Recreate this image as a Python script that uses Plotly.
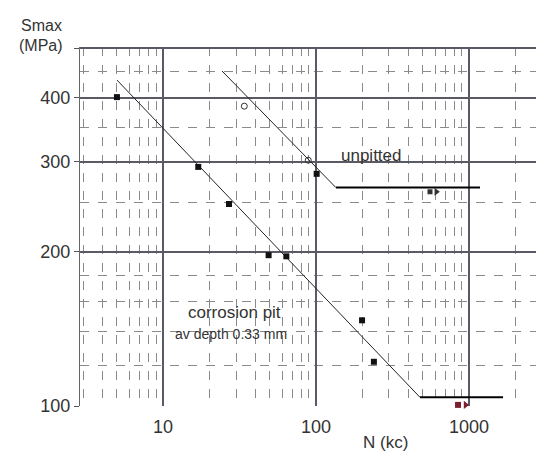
import plotly.graph_objects as go

# ---- data ----
pit_N = [5, 17, 27, 49, 64, 200, 239]
pit_S = [401, 293, 248, 197, 196, 147, 122]
pit_runout_N = [848]
pit_runout_S = [100.5]
pit_line_N = [5.0, 478]
pit_line_S = [433, 104]
pit_limit_N = [478, 1670]
pit_limit_S = [104, 104]

unp_open_N = [34, 89]
unp_open_S = [385, 302]
unp_fill_N = [101]
unp_fill_S = [284]
unp_runout_N = [556]
unp_runout_S = [262]
unp_line_N = [24.3, 135]
unp_line_S = [451, 267]
unp_limit_N = [135, 1180]
unp_limit_S = [267, 267]

x_ticks = [10, 100, 1000]
x_ticktext = ["10", "100", "1000"]
x_minor = [3, 4, 5, 6, 7, 8, 9, 20, 30, 40, 50, 60, 70, 80, 90,
           200, 300, 400, 500, 600, 700, 800, 900, 2000]
y_ticks = [100, 200, 300, 400, 500]
y_ticktext = ["100", "200", "300", "400", ""]
y_minor = [120, 140, 160, 180, 250, 350, 450]

FONT = "Liberation Sans, Arial, sans-serif"

fig = go.Figure()

fig.add_trace(go.Scatter(x=pit_line_N, y=pit_line_S, mode="lines",
                         line=dict(color="#222", width=1), showlegend=False))
fig.add_trace(go.Scatter(x=pit_limit_N, y=pit_limit_S, mode="lines",
                         line=dict(color="#000", width=2), showlegend=False))
fig.add_trace(go.Scatter(x=unp_line_N, y=unp_line_S, mode="lines",
                         line=dict(color="#222", width=1), showlegend=False))
fig.add_trace(go.Scatter(x=unp_limit_N, y=unp_limit_S, mode="lines",
                         line=dict(color="#000", width=2), showlegend=False))

fig.add_trace(go.Scatter(x=pit_N, y=pit_S, mode="markers",
                         marker=dict(symbol="square", size=6, color="#111"),
                         showlegend=False))
fig.add_trace(go.Scatter(x=pit_runout_N, y=pit_runout_S, mode="markers",
                         marker=dict(symbol="square", size=6, color="#7a2030"),
                         cliponaxis=False, showlegend=False))
fig.add_trace(go.Scatter(x=[n * 1.12 for n in pit_runout_N], y=pit_runout_S,
                         mode="markers",
                         marker=dict(symbol="triangle-right", size=7, color="#7a2030"),
                         cliponaxis=False, showlegend=False))
fig.add_trace(go.Scatter(x=unp_open_N, y=unp_open_S, mode="markers",
                         marker=dict(symbol="circle-open", size=6, color="#333",
                                     line=dict(width=1)),
                         showlegend=False))
fig.add_trace(go.Scatter(x=unp_fill_N, y=unp_fill_S, mode="markers",
                         marker=dict(symbol="square", size=6, color="#111"),
                         showlegend=False))
fig.add_trace(go.Scatter(x=unp_runout_N, y=unp_runout_S, mode="markers",
                         marker=dict(symbol="square", size=5, color="#333"),
                         showlegend=False))
fig.add_trace(go.Scatter(x=[n * 1.1 for n in unp_runout_N], y=unp_runout_S,
                         mode="markers",
                         marker=dict(symbol="triangle-right", size=7, color="#333"),
                         showlegend=False))

fig.update_xaxes(type="log", range=[0.4575, 3.438],
                 tickmode="array", tickvals=x_ticks, ticktext=x_ticktext,
                 showgrid=True, gridcolor="#5a5a66", gridwidth=1.5,
                 ticks="", ticklabelstandoff=8,
                 tickfont=dict(size=18, color="#333", family=FONT),
                 minor=dict(tickmode="array", tickvals=x_minor, showgrid=True,
                            gridcolor="#8a8a8a", griddash="dash", gridwidth=1),
                 showline=False, zeroline=False)
fig.update_yaxes(type="log", range=[2, 2.701],
                 tickmode="array", tickvals=y_ticks, ticktext=y_ticktext,
                 showgrid=True, gridcolor="#5a5a66", gridwidth=1.5,
                 ticks="outside", ticklen=5, tickcolor="#555",
                 tickfont=dict(size=18, color="#333", family=FONT),
                 minor=dict(tickmode="array", tickvals=y_minor, showgrid=True,
                            gridcolor="#8a8a8a", griddash="dash", gridwidth=1),
                 showline=True, linecolor="#666", linewidth=1, zeroline=False)

def ann(text, px, py, size, anchor="center"):
    fig.add_annotation(text=text, xref="paper", yref="paper",
                       x=(px - 80) / 456, y=(406 - py) / 359,
                       xanchor=anchor, yanchor="middle", showarrow=False,
                       font=dict(size=size, color="#333", family=FONT))

ann("Smax", 41, 25, 16)
ann("(MPa)", 41, 45, 16)
ann("N (kc)", 385, 442, 17)
ann("corrosion pit", 234, 312, 17)
ann("av depth 0.33 mm", 231, 334, 14)
ann("unpitted", 371, 155, 17)

fig.update_layout(width=536, height=454,
                  margin=dict(l=80, r=0, t=47, b=48),
                  paper_bgcolor="white", plot_bgcolor="white",
                  showlegend=False)

fig.write_html("out.html")
